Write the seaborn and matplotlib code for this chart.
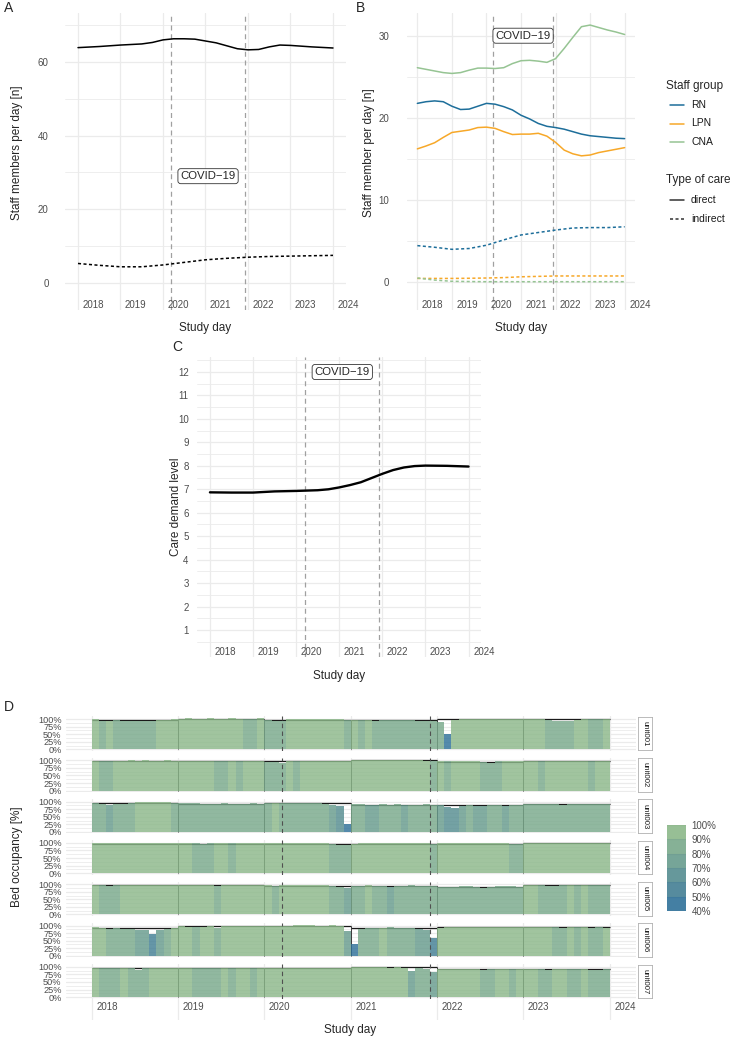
import numpy as np
import pandas as pd
import seaborn as sns
import matplotlib.pyplot as plt
import matplotlib.transforms as mtransforms
from matplotlib.colors import ListedColormap, BoundaryNorm
from matplotlib.cm import ScalarMappable
from matplotlib.lines import Line2D

# ---- data ----
years = [2018, 2019, 2020, 2021, 2022, 2023, 2024]
covid_period = [2020.2, 2021.92]

# Panel A: all staff
a_year = [2018.0, 2018.5, 2019.0, 2019.5, 2019.75, 2020.0, 2020.25, 2020.5, 2020.75, 2021.0,
          2021.25, 2021.5, 2021.75, 2022.0, 2022.25, 2022.5, 2022.75, 2023.0, 2023.5, 2024.0]
a_direct = [63.9, 64.2, 64.6, 64.9, 65.3, 66.0, 66.3, 66.3, 66.2, 65.7,
            65.2, 64.4, 63.6, 63.3, 63.4, 64.1, 64.6, 64.5, 64.1, 63.8]
a_ind_year = [2018.0, 2018.5, 2019.0, 2019.5, 2020.0, 2020.5, 2021.0, 2021.5, 2022.0, 2022.5, 2023.0, 2023.5, 2024.0]
a_indirect = [5.3, 4.8, 4.4, 4.4, 4.9, 5.6, 6.3, 6.7, 7.0, 7.2, 7.3, 7.4, 7.5]

# Panel B: by staff group
b_year = [2018.0, 2018.25, 2018.5, 2018.75, 2019.0, 2019.25, 2019.5, 2019.75, 2020.0, 2020.25,
          2020.5, 2020.75, 2021.0, 2021.25, 2021.5, 2021.75, 2022.0, 2022.25, 2022.5, 2022.75,
          2023.0, 2023.25, 2023.5, 2023.75, 2024.0]
rn_direct = [21.75, 21.95, 22.05, 21.95, 21.4, 21.0, 21.05, 21.4, 21.75, 21.65,
             21.35, 20.95, 20.3, 19.85, 19.3, 18.95, 18.8, 18.6, 18.3, 18.0,
             17.8, 17.7, 17.6, 17.5, 17.45]
lpn_direct = [16.2, 16.55, 16.95, 17.6, 18.2, 18.35, 18.5, 18.8, 18.85, 18.7,
              18.3, 17.95, 18.0, 18.0, 18.1, 17.75, 17.0, 16.05, 15.6, 15.35,
              15.45, 15.75, 15.95, 16.15, 16.35]
cna_direct = [26.1, 25.9, 25.7, 25.5, 25.4, 25.5, 25.8, 26.05, 26.05, 26.0,
              26.1, 26.6, 26.95, 27.0, 26.9, 26.75, 27.2, 28.45, 29.8, 31.1,
              31.3, 31.0, 30.7, 30.45, 30.15]
b_ind_year = [2018.0, 2018.5, 2019.0, 2019.5, 2020.0, 2020.5, 2021.0, 2021.5, 2022.0, 2022.5, 2023.0, 2023.5, 2024.0]
rn_indirect = [4.4, 4.2, 3.95, 4.05, 4.45, 5.1, 5.7, 6.0, 6.3, 6.55, 6.6, 6.6, 6.7]
lpn_indirect = [0.4, 0.4, 0.4, 0.42, 0.45, 0.5, 0.6, 0.65, 0.7, 0.7, 0.7, 0.7, 0.7]
cna_indirect = [0.45, 0.2, 0.05, 0.02, 0.0, 0.0, 0.0, 0.0, 0.0, 0.0, 0.0, 0.0, 0.0]
staff_groups = ['RN', 'LPN', 'CNA']
group_colors = {'RN': '#1D6E9A', 'LPN': '#F7A829', 'CNA': '#96C493'}

# Panel C: care demand
c_year = [2018.0, 2018.5, 2019.0, 2019.5, 2020.0, 2020.5, 2020.75, 2021.0, 2021.25, 2021.5,
          2021.75, 2022.0, 2022.25, 2022.5, 2022.75, 2023.0, 2023.5, 2024.0]
c_demand = [6.87, 6.86, 6.86, 6.91, 6.93, 6.96, 7.0, 7.08, 7.18, 7.3,
            7.48, 7.66, 7.82, 7.93, 7.99, 8.01, 8.0, 7.97]

# Panel D: monthly bed occupancy (%) per unit, its colour value (%) and yearly level (%)
units = ['unit001', 'unit002', 'unit003', 'unit004', 'unit005', 'unit006', 'unit007']
occ_unit001 = [100, 94, 95, 96, 93, 95, 92, 94, 93, 96, 97, 100,
               101, 102, 101, 101, 102, 101, 101, 102, 101, 101, 100, 102,
               96, 94, 93, 99, 100, 100, 101, 101, 100, 100, 99, 98,
               96, 97, 97, 95, 96, 97, 96, 97, 96, 95, 93, 92,
               90, 50, 97, 100, 101, 101, 101, 100, 100, 101, 100, 101,
               100, 100, 99, 96, 93, 92, 94, 97, 99, 100, 99, 100]
occ_unit002 = [99, 98, 99, 98, 99, 100, 99, 100, 99, 99, 100, 99,
               99, 99, 98, 99, 98, 97, 98, 99, 98, 97, 98, 99,
               95, 93, 92, 97, 98, 98, 98, 99, 97, 98, 99, 99,
               101, 101, 101, 101, 101, 101, 101, 101, 100, 100, 99, 97,
               98, 97, 97, 97, 98, 97, 96, 91, 97, 98, 98, 98,
               98, 98, 97, 98, 98, 97, 98, 99, 98, 97, 98, 97]
occ_unit003 = [96, 93, 89, 92, 93, 95, 99, 100, 98, 99, 98, 96,
               97, 95, 94, 93, 92, 93, 94, 92, 93, 93, 94, 93,
               96, 97, 95, 97, 96, 95, 94, 95, 93, 90, 84, 25,
               93, 92, 90, 88, 91, 90, 91, 89, 90, 90, 91, 90,
               88, 82, 80, 86, 88, 87, 86, 88, 89, 87, 88, 90,
               93, 92, 91, 92, 93, 90, 91, 92, 91, 92, 93, 92]
occ_unit004 = [100, 100, 99, 100, 100, 100, 100, 100, 101, 100, 100, 100,
               100, 99, 99, 98, 99, 100, 100, 99, 100, 100, 101, 100,
               100, 100, 100, 100, 101, 100, 100, 100, 99, 98, 94, 93,
               98, 99, 100, 100, 100, 100, 99, 100, 99, 100, 99, 98,
               99, 100, 100, 100, 99, 100, 99, 100, 100, 99, 96, 97,
               101, 101, 101, 101, 101, 101, 100, 101, 101, 101, 101, 100]
occ_unit005 = [97, 96, 93, 97, 98, 98, 97, 98, 98, 97, 98, 97,
               98, 97, 97, 98, 97, 94, 97, 98, 97, 96, 97, 98,
               96, 95, 96, 96, 96, 97, 96, 97, 96, 95, 90, 88,
               95, 95, 96, 95, 94, 90, 94, 95, 96, 95, 94, 93,
               92, 91, 92, 93, 93, 92, 89, 92, 93, 94, 93, 92,
               96, 97, 96, 95, 93, 96, 97, 96, 97, 96, 97, 96]
occ_unit006 = [94, 91, 90, 91, 88, 87, 86, 84, 72, 85, 90, 92,
               97, 96, 95, 96, 97, 93, 97, 98, 98, 99, 98, 97,
               98, 99, 98, 100, 101, 101, 101, 100, 100, 101, 99, 82,
               40, 90, 93, 92, 93, 94, 93, 92, 92, 88, 85, 60,
               93, 94, 95, 94, 95, 95, 94, 95, 94, 95, 94, 95,
               94, 95, 94, 95, 94, 93, 95, 94, 94, 93, 94, 93]
occ_unit007 = [96, 95, 96, 96, 97, 96, 90, 96, 97, 97, 96, 97,
               97, 96, 96, 97, 96, 95, 96, 97, 97, 96, 97, 96,
               95, 96, 96, 96, 97, 96, 96, 97, 96, 97, 96, 97,
               98, 98, 98, 98, 98, 97, 98, 97, 85, 95, 93, 82,
               93, 92, 93, 92, 93, 92, 88, 92, 93, 92, 93, 92,
               92, 93, 92, 91, 92, 93, 92, 93, 92, 91, 90, 92]

col_unit001 = [93, 88, 90, 84, 82, 86, 84, 88, 85, 91, 92, 94,
               96, 96, 95, 96, 96, 95, 94, 93, 90, 88, 87, 92,
               85, 82, 88, 95, 96, 96, 96, 95, 96, 94, 92, 88,
               91, 88, 90, 86, 89, 85, 88, 86, 85, 87, 83, 84,
               80, 45, 90, 94, 95, 96, 96, 95, 93, 94, 95, 93,
               93, 92, 90, 85, 82, 84, 88, 91, 92, 87, 84, 91]
col_unit002 = [92, 87, 89, 91, 95, 95, 94, 95, 93, 94, 95, 96,
               96, 95, 94, 93, 92, 89, 87, 91, 89, 92, 94, 95,
               87, 84, 86, 91, 89, 92, 94, 91, 94, 95, 96, 96,
               97, 97, 97, 97, 97, 96, 96, 96, 96, 95, 91, 89,
               91, 89, 92, 94, 91, 92, 89, 84, 87, 91, 94, 92,
               92, 91, 89, 92, 94, 91, 92, 94, 91, 89, 92, 94]
col_unit003 = [88, 80, 74, 82, 84, 86, 91, 94, 91, 92, 91, 87,
               89, 86, 84, 82, 86, 84, 88, 82, 84, 86, 88, 84,
               88, 91, 86, 89, 88, 86, 84, 86, 82, 78, 66, 42,
               84, 82, 78, 76, 82, 80, 84, 78, 80, 82, 84, 80,
               78, 68, 65, 76, 80, 78, 76, 80, 82, 78, 80, 84,
               88, 86, 84, 86, 89, 84, 86, 88, 84, 86, 89, 88]
col_unit004 = [94, 92, 91, 95, 96, 96, 96, 96, 96, 95, 96, 96,
               95, 90, 88, 86, 89, 94, 92, 89, 94, 95, 96, 96,
               96, 96, 96, 96, 96, 95, 92, 94, 90, 86, 82, 80,
               91, 92, 95, 96, 96, 95, 92, 90, 92, 94, 90, 87,
               94, 95, 96, 96, 95, 94, 95, 95, 94, 92, 82, 85,
               96, 96, 96, 96, 95, 96, 94, 95, 96, 96, 95, 94]
col_unit005 = [92, 87, 89, 85, 91, 95, 94, 96, 95, 94, 96, 95,
               94, 92, 90, 94, 92, 89, 91, 94, 95, 92, 94, 95,
               91, 89, 92, 91, 94, 95, 94, 95, 92, 89, 80, 76,
               86, 89, 91, 87, 84, 79, 86, 87, 89, 84, 86, 82,
               84, 82, 86, 88, 84, 86, 80, 84, 88, 86, 82, 84,
               91, 92, 89, 87, 84, 89, 91, 89, 92, 87, 86, 89]
col_unit006 = [94, 91, 89, 87, 84, 80, 76, 73, 58, 74, 87, 91,
               94, 92, 89, 91, 94, 87, 91, 94, 95, 96, 95, 94,
               95, 96, 95, 96, 96, 96, 96, 96, 96, 96, 94, 70,
               45, 86, 89, 87, 91, 89, 87, 86, 84, 78, 72, 55,
               91, 92, 94, 92, 94, 95, 92, 94, 92, 94, 92, 94,
               92, 94, 91, 92, 89, 87, 91, 89, 92, 87, 89, 91]
col_unit007 = [91, 87, 89, 87, 92, 89, 82, 89, 92, 94, 92, 94,
               94, 91, 86, 87, 89, 84, 91, 87, 92, 94, 89, 91,
               92, 91, 94, 95, 96, 95, 94, 94, 95, 96, 95, 94,
               96, 96, 96, 95, 96, 95, 94, 92, 78, 84, 86, 74,
               92, 94, 92, 91, 94, 92, 84, 89, 91, 92, 89, 91,
               91, 92, 89, 87, 91, 92, 89, 87, 91, 89, 85, 89]

level_unit001 = [98, 99, 98, 96, 99, 99]
level_unit002 = [97, 98, 97, 100, 96, 97]
level_unit003 = [94, 91, 94, 89, 88, 91]
level_unit004 = [98, 98, 98, 96, 97, 101]
level_unit005 = [97, 97, 95, 95, 92, 96]
level_unit006 = [91, 97, 99, 93, 94, 94]
level_unit007 = [96, 97, 96, 98, 92, 92]

occ_colors = ['#2F7199', '#437F94', '#558D90', '#679B8D', '#79A98B', '#8CB88A']
occ_bounds = [40, 50, 60, 70, 80, 90, 100]

# ---- figure setup ----
W, H = 731, 1039
sns.set_theme(style="whitegrid")
plt.rcParams['font.family'] = ['Liberation Sans', 'DejaVu Sans']
GRID = '#EBEBEB'
TXT = '#4D4D4D'
XLIM = (2017.7, 2024.3)

fig = plt.figure(figsize=(W / 100, H / 100), dpi=100)


def add_ax(l, t, r, b):
    return fig.add_axes([l / W, 1 - b / H, (r - l) / W, (b - t) / H])


def ftext(x, y, s, **kw):
    fig.text(x / W, 1 - y / H, s, **kw)


def style_ax(ax, ylim, major, minor, pad):
    ax.set_xlim(*XLIM)
    ax.set_ylim(*ylim)
    ax.set_xticks(years)
    ax.set_xticklabels([])
    ax.set_yticks(major)
    ax.set_yticks(minor, minor=True)
    ax.set_facecolor('white')
    ax.grid(True, which='major', color=GRID, lw=0.9)
    ax.grid(True, which='minor', axis='y', color=GRID, lw=0.6)
    ax.tick_params(axis='x', length=0)
    ax.tick_params(axis='y', which='both', length=0, labelsize=7, labelcolor=TXT, pad=pad)
    for s in ax.spines.values():
        s.set_visible(False)
    ax.set_xlabel('')
    ax.set_ylabel('')


def year_labels(ax, frac):
    off = mtransforms.ScaledTranslation(4.5 / 100, 0, fig.dpi_scale_trans)
    trans = mtransforms.blended_transform_factory(ax.transData, ax.transAxes) + off
    for yr in years:
        ax.text(yr, frac, str(yr), transform=trans, ha='left', va='center',
                fontsize=7, color=TXT)


def covid_lines(ax, color='#A0A0A0', lw=0.9, zorder=3):
    for xc in covid_period:
        ax.axvline(xc, color=color, lw=lw, ls=(0, (4, 3)), zorder=zorder)


def covid_label(ax, x, y, size):
    ax.text(x, y, 'COVID\u221219', ha='center', va='center', fontsize=size, zorder=5,
            bbox=dict(boxstyle='round,pad=0.22,rounding_size=0.25', fc='white', ec='#333333', lw=0.6))


# ---- Panel A ----
axA = add_ax(65.25, 13, 345.75, 310)
df_a = pd.concat([
    pd.DataFrame({'year': a_year, 'n': a_direct, 'care': 'direct'}),
    pd.DataFrame({'year': a_ind_year, 'n': a_indirect, 'care': 'indirect'}),
])
sns.lineplot(data=df_a, x='year', y='n', style='care', color='black', estimator=None,
             dashes={'direct': '', 'indirect': (2, 1.6)}, lw=1.1, legend=False, ax=axA, zorder=4)
style_ax(axA, (-7.33, 73.3), [0, 20, 40, 60], [10, 30, 50, 70], pad=12)
covid_lines(axA)
covid_label(axA, 2021.06, 29, 8.2)
year_labels(axA, 5 / 297)

# ---- Panel B ----
axB = add_ax(407, 13, 635, 310)
rows = []
for g, d, i in zip(staff_groups, [rn_direct, lpn_direct, cna_direct], [rn_indirect, lpn_indirect, cna_indirect]):
    rows.append(pd.DataFrame({'year': b_year, 'n': d, 'group': g, 'care': 'direct'}))
    rows.append(pd.DataFrame({'year': b_ind_year, 'n': i, 'group': g, 'care': 'indirect'}))
df_b = pd.concat(rows)
sns.lineplot(data=df_b, x='year', y='n', hue='group', style='care', palette=group_colors,
             hue_order=staff_groups, estimator=None,
             dashes={'direct': '', 'indirect': (2, 1.6)}, lw=1.1, legend=False, ax=axB, zorder=4)
style_ax(axB, (-3.45, 32.77), [0, 10, 20, 30], [5, 15, 25], pad=13)
covid_lines(axB)
covid_label(axB, 2021.06, 30, 8.2)
year_labels(axB, 5 / 297)

# legend for B (drawn by hand at figure level)
ftext(666, 86, 'Staff group', fontsize=8.5, va='center', ha='left')
for k, g in enumerate(staff_groups):
    yy = 105 + 18.5 * k
    fig.add_artist(Line2D([670 / W, 684 / W], [1 - yy / H] * 2, color=group_colors[g], lw=1.1))
    ftext(691, yy, g, fontsize=7.5, va='center', ha='left', color='#1A1A1A')
ftext(666, 180, 'Type of care', fontsize=8.5, va='center', ha='left')
for k, (lab, ls) in enumerate([('direct', '-'), ('indirect', (0, (2, 1.6)))]):
    yy = 200 + 19 * k
    fig.add_artist(Line2D([670 / W, 684 / W], [1 - yy / H] * 2, color='#333333', lw=1.1, ls=ls))
    ftext(691, yy, lab, fontsize=7.5, va='center', ha='left', color='#1A1A1A')

# ---- Panel C ----
axC = add_ax(197, 357, 481.5, 657)
df_c = pd.DataFrame({'year': c_year, 'demand': c_demand})
sns.lineplot(data=df_c, x='year', y='demand', color='black', lw=1.7, estimator=None, ax=axC, zorder=4)
style_ax(axC, (-0.15, 12.64), list(range(1, 13)), [v + 0.5 for v in range(0, 13)], pad=6)
covid_lines(axC)
covid_label(axC, 2021.07, 12.0, 8.2)
year_labels(axC, 5 / 300)

# ---- Panel D ----
cmap = ListedColormap(occ_colors)
norm = BoundaryNorm(occ_bounds, cmap.N, clip=True)
occ_all = [occ_unit001, occ_unit002, occ_unit003, occ_unit004, occ_unit005, occ_unit006, occ_unit007]
col_all = [col_unit001, col_unit002, col_unit003, col_unit004, col_unit005, col_unit006, col_unit007]
lvl_all = [level_unit001, level_unit002, level_unit003, level_unit004, level_unit005, level_unit006, level_unit007]
month_x = [2018 + (m + 0.5) / 12 for m in range(72)]

d_left, d_right = 65.8, 635.6
d_top0, d_step, d_h = 716.3, 41.3, 34.5
for i, unit in enumerate(units):
    t = d_top0 + i * d_step
    ax = add_ax(d_left, t, d_right, t + d_h)
    style_ax(ax, (-5, 109), [0, 25, 50, 75, 100], [12.5, 37.5, 62.5, 87.5], pad=3)
    ax.set_yticklabels(['0%', '25%', '50%', '75%', '100%'])
    ax.tick_params(axis='y', labelsize=6.6)
    lv = lvl_all[i]
    ax.hlines(lv, years[:-1], years[1:], color='#1A1A1A', lw=0.9, zorder=2)
    ax.vlines(years[1:-1], 0, [max(a, b) for a, b in zip(lv[:-1], lv[1:])], color='#3A3A3A', lw=0.7, zorder=2)
    clr = [cmap(norm(v)) for v in col_all[i]]
    ax.bar(month_x, occ_all[i], width=1 / 12, color=clr, alpha=0.82, linewidth=0, zorder=3)
    covid_lines(ax, color='#505050', lw=0.8, zorder=4)
    # strip on the right
    sax = add_ax(637.5, t + 0.5, 651.5, t + d_h - 0.5)
    sax.set_xticks([])
    sax.set_yticks([])
    sax.set_facecolor('white')
    for s in sax.spines.values():
        s.set_visible(True)
        s.set_color('#B0B0B0')
        s.set_linewidth(0.6)
    sax.text(0.5, 0.5, unit, rotation=-90, ha='center', va='center', fontsize=5.6,
             color='#1A1A1A', transform=sax.transAxes)

# year label row under the facets
lax = add_ax(d_left, 999, d_right, 1020)
lax.set_xlim(*XLIM)
lax.set_ylim(0, 1)
lax.set_xticks(years)
lax.set_xticklabels([])
lax.set_yticks([])
lax.set_facecolor('white')
lax.grid(True, axis='x', color=GRID, lw=0.9)
lax.tick_params(length=0)
for s in lax.spines.values():
    s.set_visible(False)
year_labels(lax, 0.62)

# colour bar
cax = add_ax(667, 825, 686, 911)
cb = fig.colorbar(ScalarMappable(norm=norm, cmap=cmap), cax=cax, ticks=occ_bounds)
cb.set_ticklabels([f'{b}%' for b in occ_bounds])
cb.outline.set_visible(False)
cb.solids.set_alpha(0.9)
cax.tick_params(length=0, labelsize=7, labelcolor=TXT, pad=4)

# ---- titles and tags ----
ftext(205, 328, 'Study day', fontsize=8.5, ha='center', va='center')
ftext(521, 328, 'Study day', fontsize=8.5, ha='center', va='center')
ftext(339, 676, 'Study day', fontsize=8.5, ha='center', va='center')
ftext(350, 1030, 'Study day', fontsize=8.5, ha='center', va='center')
ftext(17, 153, 'Staff members per day [n]', fontsize=8.5, rotation=90, ha='center', va='center')
ftext(369, 153, 'Staff member per day [n]', fontsize=8.5, rotation=90, ha='center', va='center')
ftext(176, 507, 'Care demand level', fontsize=8.5, rotation=90, ha='center', va='center')
ftext(17, 857, 'Bed occupancy [%]', fontsize=8.5, rotation=90, ha='center', va='center')
ftext(4, 8, 'A', fontsize=10, ha='left', va='center')
ftext(356, 8, 'B', fontsize=10, ha='left', va='center')
ftext(172, 347, 'C', fontsize=10, ha='left', va='center')
ftext(4, 707, 'D', fontsize=10, ha='left', va='center')

fig.savefig('out.png', dpi=100, facecolor='white')
